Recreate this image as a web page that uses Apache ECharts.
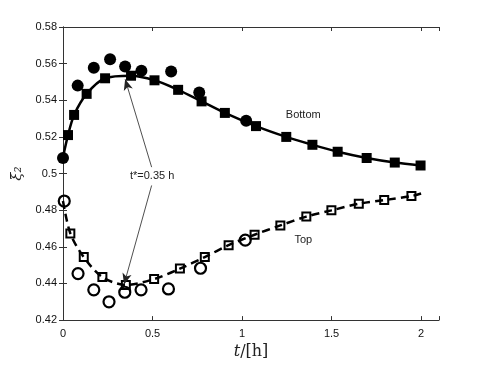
<!DOCTYPE html>
<html>
<head>
<meta charset="utf-8">
<script src="https://cdn.jsdelivr.net/npm/echarts@6/dist/echarts.min.js"></script>
<style>
  html, body { margin: 0; padding: 0; background: #fff; }
  #main { width: 485px; height: 365px; }
</style>
</head>
<body>
<div id="main"></div>
<script>
// bottom: fitted curve (squares) and measured (filled circles)
const bottomFitT = [0, 0.028, 0.062, 0.132, 0.235, 0.380, 0.511, 0.643, 0.774, 0.904, 1.078, 1.247, 1.393, 1.534, 1.696, 1.853, 1.997];
const bottomFitV = [0.509, 0.521, 0.532, 0.5435, 0.552, 0.5534, 0.5509, 0.5457, 0.5394, 0.5331, 0.5259, 0.520, 0.5157, 0.5119, 0.5085, 0.506, 0.5044];
const bottomMeasT = [0, 0.082, 0.172, 0.263, 0.347, 0.438, 0.604, 0.761, 1.023];
const bottomMeasV = [0.5085, 0.548, 0.5577, 0.5624, 0.5584, 0.5561, 0.5557, 0.5443, 0.5288];
// top: fitted curve (open squares) and measured (open circles)
const topFitT = [0, 0.041, 0.116, 0.220, 0.351, 0.509, 0.653, 0.792, 0.925, 1.070, 1.214, 1.359, 1.499, 1.652, 1.794, 1.946, 2.0];
const topFitV = [0.485, 0.4673, 0.4544, 0.4435, 0.4392, 0.4424, 0.4481, 0.4544, 0.4609, 0.4666, 0.4717, 0.4765, 0.4799, 0.4835, 0.4855, 0.4877, 0.4891];
const topMeasT = [0.007, 0.084, 0.172, 0.257, 0.345, 0.436, 0.589, 0.768, 1.018];
const topMeasV = [0.485, 0.4454, 0.4365, 0.430, 0.4352, 0.4365, 0.437, 0.4483, 0.4637];
const xTicks = [0, 0.5, 1, 1.5, 2];
const yTicks = [0.42, 0.44, 0.46, 0.48, 0.5, 0.52, 0.54, 0.56, 0.58];

const chart = echarts.init(document.getElementById('main'));

const pairs = (xs, ys) => xs.map((x, i) => [x, ys[i]]);
// first point of bottom fit and first/last of top fit have no marker
const bottomFitData = pairs(bottomFitT, bottomFitV).map((p, i) =>
  i === 0 ? {value: p, symbol: 'none'} : p);
const topFitData = pairs(topFitT, topFitV).map((p, i, arr) =>
  (i === 0 || i === arr.length - 1) ? {value: p, symbol: 'none'} : p);

const font = '"Liberation Sans", Arial, sans-serif';
const axisCommon = {
  axisLine: {show: true, lineStyle: {color: '#333', width: 1}},
  axisTick: {show: true, inside: true, length: 4, lineStyle: {color: '#333'}},
  splitLine: {show: false}
};
const fmtX = v => xTicks.some(t => Math.abs(t - v) < 1e-9) ? String(v) : '';

const option = {
  backgroundColor: '#fff',
  animation: false,
  grid: {left: 63, right: 46, top: 27, bottom: 41, show: false},
  xAxis: [
    Object.assign({
      type: 'value', min: 0, max: 2.1, interval: 0.5, position: 'bottom',
      axisLabel: {color: '#111', fontFamily: font, fontSize: 11, margin: 8, formatter: fmtX},
      name: '{i|t}/[h]', nameLocation: 'middle', nameGap: 16,
      nameTextStyle: {
        fontFamily: '"DejaVu Serif", serif', fontSize: 16, color: '#222',
        rich: {i: {fontFamily: '"DejaVu Serif", serif', fontStyle: 'italic', fontSize: 16, color: '#222'}}
      }
    }, axisCommon),
    Object.assign({
      type: 'value', min: 0, max: 2.1, interval: 0.5, position: 'top',
      axisLabel: {show: false}
    }, axisCommon)
  ],
  yAxis: [
    Object.assign({
      type: 'value', min: 0.42, max: 0.58, interval: 0.02, position: 'left',
      axisLabel: {color: '#111', fontFamily: font, fontSize: 11, margin: 6},
      name: 'ξ̄₂', nameLocation: 'middle', nameGap: 33, nameRotate: 90,
      nameTextStyle: {fontFamily: '"DejaVu Serif", serif', fontStyle: 'italic', fontSize: 15, color: '#222'}
    }, axisCommon),
    Object.assign({
      type: 'value', min: 0.42, max: 0.58, interval: 0.02, position: 'right',
      axisLabel: {show: false}
    }, axisCommon)
  ],
  series: [
    {
      name: 'Bottom fit',
      type: 'line',
      data: bottomFitData,
      smooth: 0.3,
      symbol: 'rect',
      symbolSize: 10,
      itemStyle: {color: '#000', opacity: 1},
      lineStyle: {color: '#000', width: 2.5},
      z: 3,
      markPoint: {
        symbol: 'circle', symbolSize: 0,
        label: {show: true, position: 'inside', color: '#222', fontFamily: font, fontSize: 11},
        data: [
          {coord: [1.342, 0.532], label: {formatter: 'Bottom'}},
          {coord: [0.498, 0.4986], label: {formatter: 't*=0.35 h'}}
        ]
      },
      markLine: {
        silent: true,
        symbol: ['none', 'arrow'],
        symbolSize: [7, 11],
        label: {show: false},
        lineStyle: {color: '#222', width: 0.8, type: 'solid'},
        data: [
          [{coord: [0.495, 0.5035]}, {coord: [0.347, 0.5515]}],
          [{coord: [0.495, 0.4935]}, {coord: [0.341, 0.4395]}]
        ]
      }
    },
    {
      name: 'Bottom measured',
      type: 'scatter',
      data: pairs(bottomMeasT, bottomMeasV),
      symbol: 'circle',
      symbolSize: 12,
      itemStyle: {color: '#000', opacity: 1},
      z: 4
    },
    {
      name: 'Top fit',
      type: 'line',
      data: topFitData,
      smooth: 0.3,
      symbol: 'rect',
      symbolSize: 8,
      itemStyle: {color: 'rgba(0,0,0,0)', borderColor: '#000', borderWidth: 2, opacity: 1},
      lineStyle: {color: '#000', width: 2.5, type: [8, 5]},
      z: 3,
      markPoint: {
        symbol: 'circle', symbolSize: 0,
        label: {show: true, position: 'inside', color: '#222', fontFamily: font, fontSize: 11},
        data: [{coord: [1.342, 0.4636], label: {formatter: 'Top'}}]
      }
    },
    {
      name: 'Top measured',
      type: 'scatter',
      data: pairs(topMeasT, topMeasV),
      symbol: 'circle',
      symbolSize: 11,
      itemStyle: {color: 'rgba(0,0,0,0)', borderColor: '#000', borderWidth: 2.2, opacity: 1},
      z: 4
    }
  ]
};

chart.setOption(option);
</script>
</body>
</html>
